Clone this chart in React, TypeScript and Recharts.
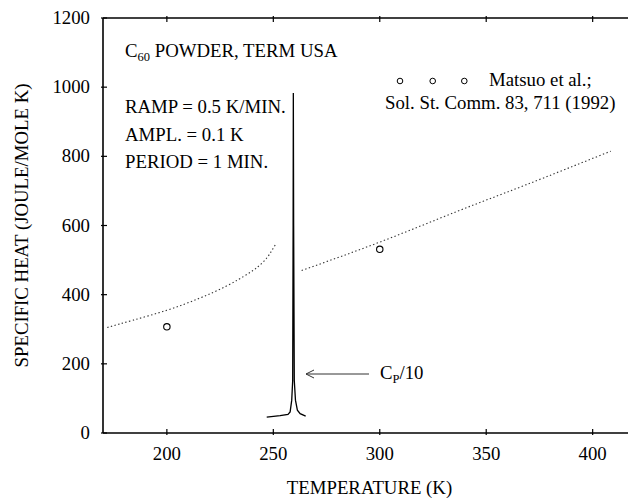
import React from 'react';
import { ComposedChart, Line, Scatter, XAxis, YAxis, Legend } from 'recharts';

// Dotted curve, low-temperature branch (T in K, Cp in J/mole K)
const lowBranchT = [172, 184, 200, 215, 228, 238, 242, 245, 248, 251];
const lowBranchCp = [305, 326, 355, 389, 425, 460, 477, 493, 515, 545];

// Dotted curve, high-temperature branch
const highBranchT = [263.3, 300, 336, 368, 408.5];
const highBranchCp = [470, 552, 640, 716, 815];

// Cp/10 trace around the transition
const peakT = [246.9, 253.2, 256.9, 257.9, 258.65, 259.1, 259.3, 259.4, 259.55, 259.85, 260.4, 261.3, 262.6, 265.2];
const peakCp = [46, 50, 54, 61, 95, 152, 600, 983, 600, 152, 95, 66, 56, 49];

// Matsuo et al. data points
const matsuoT = [200, 300];
const matsuoCp = [307, 531];

const xTicks = [200, 250, 300, 350, 400];
const yTicks = [0, 200, 400, 600, 800, 1000, 1200];

const zip = (xs: number[], ys: number[]) => xs.map((x, i) => ({ x, y: ys[i] }));
const lowData = zip(lowBranchT, lowBranchCp);
const highData = zip(highBranchT, highBranchCp);
const peakData = zip(peakT, peakCp);
const matsuoData = zip(matsuoT, matsuoCp);

const FONT = '"Liberation Serif", "Times New Roman", serif';
const FS = 18.8;

const BottomTick = (props: any) => {
  const { x, y, payload } = props;
  return (
    <g>
      <line x1={x} x2={x} y1={y} y2={y - 6} stroke="#000" strokeWidth={1.2} />
      <text x={x} y={y + 25} textAnchor="middle" fontFamily={FONT} fontSize={FS} fill="#000">
        {payload.value}
      </text>
    </g>
  );
};

const TopTick = (props: any) => {
  const { x, y } = props;
  return <line x1={x} x2={x} y1={y} y2={y + 6} stroke="#000" strokeWidth={1.2} />;
};

const LeftTick = (props: any) => {
  const { x, y, payload } = props;
  return (
    <g>
      <line x1={x} x2={x + 6} y1={y} y2={y} stroke="#000" strokeWidth={1.2} />
      <text x={x - 11} y={y + 6} textAnchor="end" fontFamily={FONT} fontSize={FS} fill="#000">
        {payload.value}
      </text>
    </g>
  );
};

const HollowDot = (props: any) => {
  const { cx, cy } = props;
  return <circle cx={cx} cy={cy} r={3.2} fill="none" stroke="#000" strokeWidth={1.1} />;
};

const LegendContent = () => (
  <svg width={250} height={60} style={{ display: 'block' }}>
    <circle cx={20} cy={21} r={2.8} fill="none" stroke="#000" strokeWidth={1} />
    <circle cx={52.7} cy={21} r={2.8} fill="none" stroke="#000" strokeWidth={1} />
    <circle cx={84.3} cy={21} r={2.8} fill="none" stroke="#000" strokeWidth={1} />
    <text x={109} y={26} fontFamily={FONT} fontSize={FS} fill="#000">Matsuo et al.;</text>
    <text x={5} y={48.5} fontFamily={FONT} fontSize={FS} fill="#000">Sol. St. Comm. 83, 711 (1992)</text>
  </svg>
);

export default function App() {
  return (
    <div style={{ position: 'absolute', left: 0, top: 0, width: 628, height: 498, background: '#fff' }}>
      <ComposedChart width={628} height={498} margin={{ top: 0, right: 0, bottom: 0, left: 0 }}>
        <XAxis
          xAxisId="b"
          type="number"
          dataKey="x"
          domain={[170, 416.6]}
          ticks={xTicks}
          allowDataOverflow
          height={65}
          tickSize={0}
          tickLine={false}
          tick={<BottomTick />}
          axisLine={{ stroke: '#000', strokeWidth: 1.6 }}
          label={{
            content: (p: any) => {
              const vb = p.viewBox;
              return (
                <text x={vb.x + vb.width / 2 + 4} y={vb.y + 61} textAnchor="middle" fontFamily={FONT} fontSize={FS} fill="#000">
                  TEMPERATURE (K)
                </text>
              );
            },
          }}
        />
        <XAxis
          xAxisId="t"
          orientation="top"
          type="number"
          dataKey="x"
          domain={[170, 416.6]}
          ticks={xTicks}
          allowDataOverflow
          height={18}
          tickSize={0}
          tickLine={false}
          tick={<TopTick />}
          axisLine={{ stroke: '#000', strokeWidth: 1.6 }}
        />
        <YAxis
          yAxisId="l"
          type="number"
          domain={[0, 1200]}
          ticks={yTicks}
          allowDataOverflow
          width={103}
          tickSize={0}
          tickLine={false}
          tick={<LeftTick />}
          axisLine={{ stroke: '#000', strokeWidth: 1.6 }}
          label={{
            content: (p: any) => {
              const vb = p.viewBox;
              const cy = vb.y + vb.height / 2;
              return (
                <text x={27.5} y={cy} textAnchor="middle" fontFamily={FONT} fontSize={FS} fill="#000" transform={`rotate(-90, 27.5, ${cy})`}>
                  SPECIFIC HEAT (JOULE/MOLE K)
                </text>
              );
            },
          }}
        />
        <Line xAxisId="b" yAxisId="l" data={lowData} dataKey="y" type="natural" stroke="#333" strokeWidth={1.1} strokeDasharray="1.4 2.4" dot={false} isAnimationActive={false} legendType="none" />
        <Line xAxisId="b" yAxisId="l" data={highData} dataKey="y" type="natural" stroke="#333" strokeWidth={1.1} strokeDasharray="1.4 2.4" dot={false} isAnimationActive={false} legendType="none" />
        <Line xAxisId="b" yAxisId="l" data={peakData} dataKey="y" type="linear" stroke="#000" strokeWidth={1.3} dot={false} isAnimationActive={false} legendType="none" />
        <Scatter xAxisId="b" yAxisId="l" data={matsuoData} dataKey="y" shape={<HollowDot />} isAnimationActive={false} name="Matsuo et al." />
        <Legend
          layout="horizontal"
          verticalAlign="middle"
          align="center"
          content={<LegendContent />}
          wrapperStyle={{ position: 'absolute', left: 380, top: 60, width: 250, height: 60 }}
        />
      </ComposedChart>
      <svg width={628} height={498} style={{ position: 'absolute', left: 0, top: 0, pointerEvents: 'none' }}>
        <text x={125} y={57} fontFamily={FONT} fontSize={FS} fill="#000">
          C<tspan dy={4} fontSize={12.5}>60</tspan>
          <tspan dy={-4}> POWDER, TERM USA</tspan>
        </text>
        <text x={125} y={113} fontFamily={FONT} fontSize={FS} fill="#000">RAMP = 0.5 K/MIN.</text>
        <text x={125} y={141} fontFamily={FONT} fontSize={FS} fill="#000">AMPL. = 0.1 K</text>
        <text x={125} y={168} fontFamily={FONT} fontSize={FS} fill="#000">PERIOD = 1 MIN.</text>
        <line x1={306} x2={369} y1={374} y2={374} stroke="#333" strokeWidth={1} />
        <polyline points="314,370 306,374 314,378" fill="none" stroke="#333" strokeWidth={1} />
        <text x={380} y={379} fontFamily={FONT} fontSize={FS} fill="#000">
          C<tspan dy={4} fontSize={12.5}>P</tspan>
          <tspan dy={-4}>/10</tspan>
        </text>
      </svg>
    </div>
  );
}
